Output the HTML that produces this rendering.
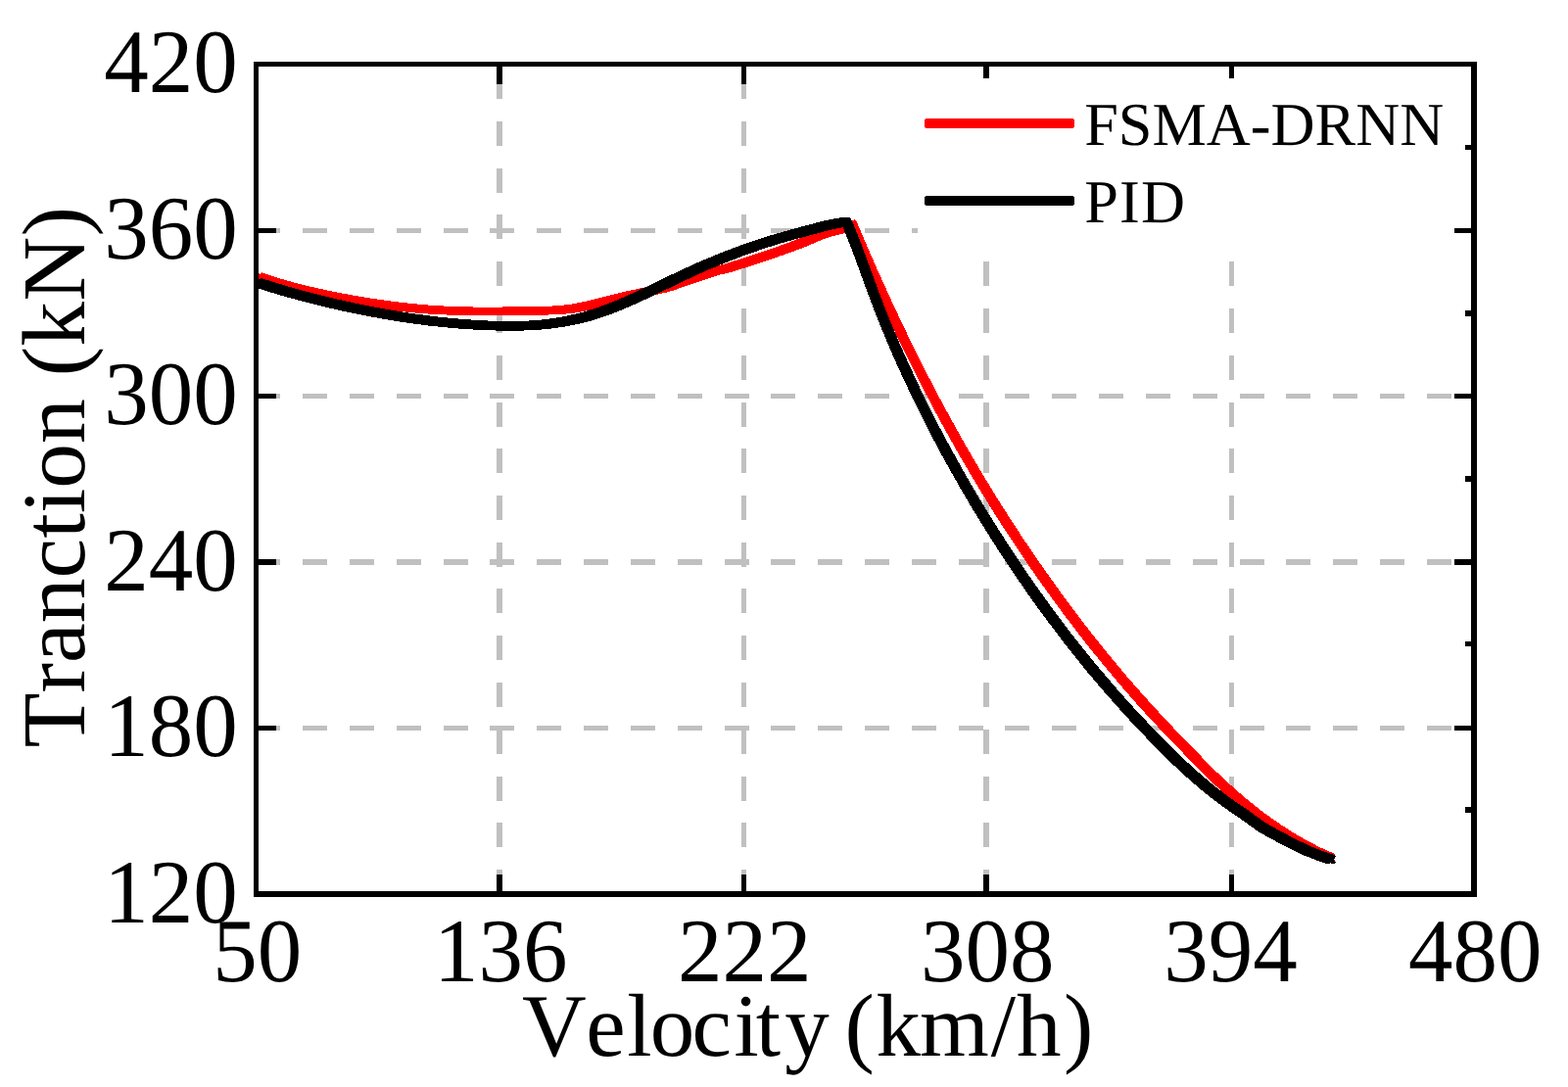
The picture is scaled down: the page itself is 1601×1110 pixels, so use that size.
<!DOCTYPE html>
<html lang="en">
<head>
<meta charset="utf-8">
<title>Traction vs Velocity</title>
<style>
html, body { margin: 0; padding: 0; background: #ffffff; }
body { width: 1601px; height: 1110px; overflow: hidden; }
svg { display: block; position: absolute; left: 0; top: 0; }
text { font-family: "Liberation Serif", serif; fill: #000; font-kerning: none; font-variant-ligatures: none; text-rendering: geometricPrecision; }
.t { font-size: 91px; }
.lg { font-size: 62.3px; }
</style>
</head>
<body>
<svg width="1601" height="1110" viewBox="0 0 1601 1110">
<rect x="0" y="0" width="1601" height="1110" fill="#ffffff"/>

<g shape-rendering="crispEdges">
<rect x="261" y="233" width="25" height="5" fill="#c0c0c0"/>
<rect x="309" y="233" width="25" height="5" fill="#c0c0c0"/>
<rect x="357" y="233" width="25" height="5" fill="#c0c0c0"/>
<rect x="405" y="233" width="25" height="5" fill="#c0c0c0"/>
<rect x="453" y="233" width="25" height="5" fill="#c0c0c0"/>
<rect x="500" y="233" width="25" height="5" fill="#c0c0c0"/>
<rect x="548" y="233" width="25" height="5" fill="#c0c0c0"/>
<rect x="596" y="233" width="25" height="5" fill="#c0c0c0"/>
<rect x="644" y="233" width="25" height="5" fill="#c0c0c0"/>
<rect x="692" y="233" width="25" height="5" fill="#c0c0c0"/>
<rect x="740" y="233" width="25" height="5" fill="#c0c0c0"/>
<rect x="787" y="233" width="25" height="5" fill="#c0c0c0"/>
<rect x="835" y="233" width="25" height="5" fill="#c0c0c0"/>
<rect x="883" y="233" width="25" height="5" fill="#c0c0c0"/>
<rect x="931" y="233" width="25" height="5" fill="#c0c0c0"/>
<rect x="979" y="233" width="25" height="5" fill="#c0c0c0"/>
<rect x="1026" y="233" width="25" height="5" fill="#c0c0c0"/>
<rect x="1074" y="233" width="25" height="5" fill="#c0c0c0"/>
<rect x="1122" y="233" width="25" height="5" fill="#c0c0c0"/>
<rect x="1170" y="233" width="25" height="5" fill="#c0c0c0"/>
<rect x="1218" y="233" width="25" height="5" fill="#c0c0c0"/>
<rect x="1266" y="233" width="25" height="5" fill="#c0c0c0"/>
<rect x="1313" y="233" width="25" height="5" fill="#c0c0c0"/>
<rect x="1361" y="233" width="25" height="5" fill="#c0c0c0"/>
<rect x="1409" y="233" width="25" height="5" fill="#c0c0c0"/>
<rect x="1457" y="233" width="25" height="5" fill="#c0c0c0"/>
<rect x="261" y="402" width="25" height="5" fill="#c0c0c0"/>
<rect x="309" y="402" width="25" height="5" fill="#c0c0c0"/>
<rect x="357" y="402" width="25" height="5" fill="#c0c0c0"/>
<rect x="405" y="402" width="25" height="5" fill="#c0c0c0"/>
<rect x="453" y="402" width="25" height="5" fill="#c0c0c0"/>
<rect x="500" y="402" width="25" height="5" fill="#c0c0c0"/>
<rect x="548" y="402" width="25" height="5" fill="#c0c0c0"/>
<rect x="596" y="402" width="25" height="5" fill="#c0c0c0"/>
<rect x="644" y="402" width="25" height="5" fill="#c0c0c0"/>
<rect x="692" y="402" width="25" height="5" fill="#c0c0c0"/>
<rect x="740" y="402" width="25" height="5" fill="#c0c0c0"/>
<rect x="787" y="402" width="25" height="5" fill="#c0c0c0"/>
<rect x="835" y="402" width="25" height="5" fill="#c0c0c0"/>
<rect x="883" y="402" width="25" height="5" fill="#c0c0c0"/>
<rect x="931" y="402" width="25" height="5" fill="#c0c0c0"/>
<rect x="979" y="402" width="25" height="5" fill="#c0c0c0"/>
<rect x="1026" y="402" width="25" height="5" fill="#c0c0c0"/>
<rect x="1074" y="402" width="25" height="5" fill="#c0c0c0"/>
<rect x="1122" y="402" width="25" height="5" fill="#c0c0c0"/>
<rect x="1170" y="402" width="25" height="5" fill="#c0c0c0"/>
<rect x="1218" y="402" width="25" height="5" fill="#c0c0c0"/>
<rect x="1266" y="402" width="25" height="5" fill="#c0c0c0"/>
<rect x="1313" y="402" width="25" height="5" fill="#c0c0c0"/>
<rect x="1361" y="402" width="25" height="5" fill="#c0c0c0"/>
<rect x="1409" y="402" width="25" height="5" fill="#c0c0c0"/>
<rect x="1457" y="402" width="25" height="5" fill="#c0c0c0"/>
<rect x="261" y="571" width="25" height="6" fill="#c0c0c0"/>
<rect x="309" y="571" width="25" height="6" fill="#c0c0c0"/>
<rect x="357" y="571" width="25" height="6" fill="#c0c0c0"/>
<rect x="405" y="571" width="25" height="6" fill="#c0c0c0"/>
<rect x="453" y="571" width="25" height="6" fill="#c0c0c0"/>
<rect x="500" y="571" width="25" height="6" fill="#c0c0c0"/>
<rect x="548" y="571" width="25" height="6" fill="#c0c0c0"/>
<rect x="596" y="571" width="25" height="6" fill="#c0c0c0"/>
<rect x="644" y="571" width="25" height="6" fill="#c0c0c0"/>
<rect x="692" y="571" width="25" height="6" fill="#c0c0c0"/>
<rect x="740" y="571" width="25" height="6" fill="#c0c0c0"/>
<rect x="787" y="571" width="25" height="6" fill="#c0c0c0"/>
<rect x="835" y="571" width="25" height="6" fill="#c0c0c0"/>
<rect x="883" y="571" width="25" height="6" fill="#c0c0c0"/>
<rect x="931" y="571" width="25" height="6" fill="#c0c0c0"/>
<rect x="979" y="571" width="25" height="6" fill="#c0c0c0"/>
<rect x="1026" y="571" width="25" height="6" fill="#c0c0c0"/>
<rect x="1074" y="571" width="25" height="6" fill="#c0c0c0"/>
<rect x="1122" y="571" width="25" height="6" fill="#c0c0c0"/>
<rect x="1170" y="571" width="25" height="6" fill="#c0c0c0"/>
<rect x="1218" y="571" width="25" height="6" fill="#c0c0c0"/>
<rect x="1266" y="571" width="25" height="6" fill="#c0c0c0"/>
<rect x="1313" y="571" width="25" height="6" fill="#c0c0c0"/>
<rect x="1361" y="571" width="25" height="6" fill="#c0c0c0"/>
<rect x="1409" y="571" width="25" height="6" fill="#c0c0c0"/>
<rect x="1457" y="571" width="25" height="6" fill="#c0c0c0"/>
<rect x="261" y="741" width="25" height="5" fill="#c0c0c0"/>
<rect x="309" y="741" width="25" height="5" fill="#c0c0c0"/>
<rect x="357" y="741" width="25" height="5" fill="#c0c0c0"/>
<rect x="405" y="741" width="25" height="5" fill="#c0c0c0"/>
<rect x="453" y="741" width="25" height="5" fill="#c0c0c0"/>
<rect x="500" y="741" width="25" height="5" fill="#c0c0c0"/>
<rect x="548" y="741" width="25" height="5" fill="#c0c0c0"/>
<rect x="596" y="741" width="25" height="5" fill="#c0c0c0"/>
<rect x="644" y="741" width="25" height="5" fill="#c0c0c0"/>
<rect x="692" y="741" width="25" height="5" fill="#c0c0c0"/>
<rect x="740" y="741" width="25" height="5" fill="#c0c0c0"/>
<rect x="787" y="741" width="25" height="5" fill="#c0c0c0"/>
<rect x="835" y="741" width="25" height="5" fill="#c0c0c0"/>
<rect x="883" y="741" width="25" height="5" fill="#c0c0c0"/>
<rect x="931" y="741" width="25" height="5" fill="#c0c0c0"/>
<rect x="979" y="741" width="25" height="5" fill="#c0c0c0"/>
<rect x="1026" y="741" width="25" height="5" fill="#c0c0c0"/>
<rect x="1074" y="741" width="25" height="5" fill="#c0c0c0"/>
<rect x="1122" y="741" width="25" height="5" fill="#c0c0c0"/>
<rect x="1170" y="741" width="25" height="5" fill="#c0c0c0"/>
<rect x="1218" y="741" width="25" height="5" fill="#c0c0c0"/>
<rect x="1266" y="741" width="25" height="5" fill="#c0c0c0"/>
<rect x="1313" y="741" width="25" height="5" fill="#c0c0c0"/>
<rect x="1361" y="741" width="25" height="5" fill="#c0c0c0"/>
<rect x="1409" y="741" width="25" height="5" fill="#c0c0c0"/>
<rect x="1457" y="741" width="25" height="5" fill="#c0c0c0"/>
<rect x="507" y="888" width="6" height="25" fill="#c0c0c0"/>
<rect x="507" y="840" width="6" height="25" fill="#c0c0c0"/>
<rect x="507" y="793" width="6" height="25" fill="#c0c0c0"/>
<rect x="507" y="745" width="6" height="25" fill="#c0c0c0"/>
<rect x="507" y="697" width="6" height="25" fill="#c0c0c0"/>
<rect x="507" y="649" width="6" height="25" fill="#c0c0c0"/>
<rect x="507" y="601" width="6" height="25" fill="#c0c0c0"/>
<rect x="507" y="554" width="6" height="25" fill="#c0c0c0"/>
<rect x="507" y="506" width="6" height="25" fill="#c0c0c0"/>
<rect x="507" y="458" width="6" height="25" fill="#c0c0c0"/>
<rect x="507" y="411" width="6" height="25" fill="#c0c0c0"/>
<rect x="507" y="363" width="6" height="25" fill="#c0c0c0"/>
<rect x="507" y="315" width="6" height="25" fill="#c0c0c0"/>
<rect x="507" y="267" width="6" height="25" fill="#c0c0c0"/>
<rect x="507" y="219" width="6" height="25" fill="#c0c0c0"/>
<rect x="507" y="172" width="6" height="25" fill="#c0c0c0"/>
<rect x="507" y="124" width="6" height="25" fill="#c0c0c0"/>
<rect x="507" y="76" width="6" height="25" fill="#c0c0c0"/>
<rect x="757" y="888" width="5" height="25" fill="#c0c0c0"/>
<rect x="757" y="840" width="5" height="25" fill="#c0c0c0"/>
<rect x="757" y="793" width="5" height="25" fill="#c0c0c0"/>
<rect x="757" y="745" width="5" height="25" fill="#c0c0c0"/>
<rect x="757" y="697" width="5" height="25" fill="#c0c0c0"/>
<rect x="757" y="649" width="5" height="25" fill="#c0c0c0"/>
<rect x="757" y="601" width="5" height="25" fill="#c0c0c0"/>
<rect x="757" y="554" width="5" height="25" fill="#c0c0c0"/>
<rect x="757" y="506" width="5" height="25" fill="#c0c0c0"/>
<rect x="757" y="458" width="5" height="25" fill="#c0c0c0"/>
<rect x="757" y="411" width="5" height="25" fill="#c0c0c0"/>
<rect x="757" y="363" width="5" height="25" fill="#c0c0c0"/>
<rect x="757" y="315" width="5" height="25" fill="#c0c0c0"/>
<rect x="757" y="267" width="5" height="25" fill="#c0c0c0"/>
<rect x="757" y="219" width="5" height="25" fill="#c0c0c0"/>
<rect x="757" y="172" width="5" height="25" fill="#c0c0c0"/>
<rect x="757" y="124" width="5" height="25" fill="#c0c0c0"/>
<rect x="757" y="76" width="5" height="25" fill="#c0c0c0"/>
<rect x="1004" y="888" width="6" height="25" fill="#c0c0c0"/>
<rect x="1004" y="840" width="6" height="25" fill="#c0c0c0"/>
<rect x="1004" y="793" width="6" height="25" fill="#c0c0c0"/>
<rect x="1004" y="745" width="6" height="25" fill="#c0c0c0"/>
<rect x="1004" y="697" width="6" height="25" fill="#c0c0c0"/>
<rect x="1004" y="649" width="6" height="25" fill="#c0c0c0"/>
<rect x="1004" y="601" width="6" height="25" fill="#c0c0c0"/>
<rect x="1004" y="554" width="6" height="25" fill="#c0c0c0"/>
<rect x="1004" y="506" width="6" height="25" fill="#c0c0c0"/>
<rect x="1004" y="458" width="6" height="25" fill="#c0c0c0"/>
<rect x="1004" y="411" width="6" height="25" fill="#c0c0c0"/>
<rect x="1004" y="363" width="6" height="25" fill="#c0c0c0"/>
<rect x="1004" y="315" width="6" height="25" fill="#c0c0c0"/>
<rect x="1004" y="267" width="6" height="25" fill="#c0c0c0"/>
<rect x="1004" y="219" width="6" height="25" fill="#c0c0c0"/>
<rect x="1004" y="172" width="6" height="25" fill="#c0c0c0"/>
<rect x="1004" y="124" width="6" height="25" fill="#c0c0c0"/>
<rect x="1004" y="76" width="6" height="25" fill="#c0c0c0"/>
<rect x="1255" y="888" width="5" height="25" fill="#c0c0c0"/>
<rect x="1255" y="840" width="5" height="25" fill="#c0c0c0"/>
<rect x="1255" y="793" width="5" height="25" fill="#c0c0c0"/>
<rect x="1255" y="745" width="5" height="25" fill="#c0c0c0"/>
<rect x="1255" y="697" width="5" height="25" fill="#c0c0c0"/>
<rect x="1255" y="649" width="5" height="25" fill="#c0c0c0"/>
<rect x="1255" y="601" width="5" height="25" fill="#c0c0c0"/>
<rect x="1255" y="554" width="5" height="25" fill="#c0c0c0"/>
<rect x="1255" y="506" width="5" height="25" fill="#c0c0c0"/>
<rect x="1255" y="458" width="5" height="25" fill="#c0c0c0"/>
<rect x="1255" y="411" width="5" height="25" fill="#c0c0c0"/>
<rect x="1255" y="363" width="5" height="25" fill="#c0c0c0"/>
<rect x="1255" y="315" width="5" height="25" fill="#c0c0c0"/>
<rect x="1255" y="267" width="5" height="25" fill="#c0c0c0"/>
<rect x="1255" y="219" width="5" height="25" fill="#c0c0c0"/>
<rect x="1255" y="172" width="5" height="25" fill="#c0c0c0"/>
<rect x="1255" y="124" width="5" height="25" fill="#c0c0c0"/>
<rect x="1255" y="76" width="5" height="25" fill="#c0c0c0"/>
</g>
<g shape-rendering="crispEdges">
<g fill="none" stroke="#ff0000" stroke-linejoin="round" stroke-linecap="round">
<polyline stroke-width="5.6" points="264.5,282.7 270,284.6 276,286.5 282,288.4 288,290.2 294,291.9 300,293.5 306,295 312,296.5 318,297.9 324,299.2 330,300.5 336,301.8 342,303 348,304.1 354,305.2 360,306.3 366,307.3 372,308.3 378,309.2 384,310.1 390,311 396,311.8 402,312.6 408,313.3 414,313.9 420,314.5 426,315.1 432,315.6 438,316.1 444,316.5 450,316.8 456,317.1 462,317.3 468,317.5 474,317.7 480,317.8 486,317.8 492,317.9 498,317.9 504,317.9 510,317.8 516,317.8 522,317.7 528,317.6 534,317.6 540,317.5 546,317.4 552,317.4 558,317.2 564,317 570,316.6 576,316.1 582,315.5 588,314.6 594,313.5 600,312.2 606,310.9 612,309.4 618,307.8 624,306.3 630,304.8 636,303.3 642,301.9 648,300.6 654,299.3 660,298 666,296.8 672,295.5 678,294.1 684,292.5 690,290.3 696,288 702,286.1 708,284.2 714,282.3 720,280.3 726,278.2 732,276.3 738,275 744,273.5 750,271.6 756,269.7 762,267.7 768,265.7 774,263.7 780,261.8 786,259.8 792,257.7 798,255.7 804,253.5 810,251.3 816,249 822,246.6 828,244 834,241.5 840,239.2 846,237.3 852,235.7 858,234.1 864,231.9 870,228.7 871.8,232.7 874.3,238.7 876.9,244.7 879.4,250.7 882,256.7 884.6,262.7 887.3,268.7 889.9,274.7 892.6,280.7 895.3,286.7 898,292.7 900.7,298.7 903.4,304.7 906.2,310.7 909,316.7 911.8,322.7 914.6,328.7 917.5,334.7 920.3,340.7 923.2,346.7 926.2,352.7 929.1,358.7 932.1,364.7 935.1,370.7 938.1,376.7 941.1,382.7 944.2,388.7 947.3,394.7 950.5,400.7 953.6,406.7 956.8,412.7 960,418.7 963.3,424.7 966.5,430.7 969.8,436.7 973.2,442.7 976.5,448.7 979.9,454.7 983.3,460.7 986.8,466.7 990.3,472.7 993.8,478.7 997.4,484.7 1001,490.7 1004.6,496.7 1008.3,502.7 1011.9,508.7 1015.7,514.7 1019.4,520.7 1023.2,526.7 1027.1,532.7 1031,538.7 1034.9,544.7 1038.8,550.7 1042.8,556.7 1046.9,562.7 1050.9,568.7 1055,574.7 1059.2,580.7 1063.4,586.7 1067.6,592.7 1071.9,598.7 1076.2,604.7 1080.6,610.7 1085,616.7 1089.4,622.7 1093.9,628.7 1098.5,634.7 1103.1,640.7 1107.7,646.7 1112.4,652.7 1117.2,658.7 1122,664.7 1126.9,670.7 1131.8,676.7 1136.8,682.7 1141.8,688.7 1146.9,694.7 1152.1,700.7 1157.3,706.7 1162.6,712.7 1168,718.7 1173.4,724.7 1179,730.7 1184.5,736.7 1190.2,742.7 1195.9,748.7 1201.7,754.7 1207.6,760.8 1213.6,766.9 1219.6,773.2 1225.7,779.5 1231.9,785.8 1238.2,792 1244.6,798 1251.1,804 1257.7,810 1264.6,816 1271.7,822 1279.2,828 1287,834 1295.3,840 1304,846 1313.3,852 1323.2,858 1333.8,864 1345.1,869.7 1357.1,875.1 1358.7,875.8"/>
<polyline transform="translate(-2.8 -2.8)" stroke-width="3" points="264.5,282.7 270,284.6 276,286.5 282,288.4 288,290.2 294,291.9 300,293.5 306,295 312,296.5 318,297.9 324,299.2 330,300.5 336,301.8 342,303 348,304.1 354,305.2 360,306.3 366,307.3 372,308.3 378,309.2 384,310.1 390,311 396,311.8 402,312.6 408,313.3 414,313.9 420,314.5 426,315.1 432,315.6 438,316.1 444,316.5 450,316.8 456,317.1 462,317.3 468,317.5 474,317.7 480,317.8 486,317.8 492,317.9 498,317.9 504,317.9 510,317.8 516,317.8 522,317.7 528,317.6 534,317.6 540,317.5 546,317.4 552,317.4 558,317.2 564,317 570,316.6 576,316.1 582,315.5 588,314.6 594,313.5 600,312.2 606,310.9 612,309.4 618,307.8 624,306.3 630,304.8 636,303.3 642,301.9 648,300.6 654,299.3 660,298 666,296.8 672,295.5 678,294.1 684,292.5 690,290.3 696,288 702,286.1 708,284.2 714,282.3 720,280.3 726,278.2 732,276.3 738,275 744,273.5 750,271.6 756,269.7 762,267.7 768,265.7 774,263.7 780,261.8 786,259.8 792,257.7 798,255.7 804,253.5 810,251.3 816,249 822,246.6 828,244 834,241.5 840,239.2 846,237.3 852,235.7 858,234.1 864,231.9 870,228.7 871.8,232.7 874.3,238.7 876.9,244.7 879.4,250.7 882,256.7 884.6,262.7 887.3,268.7 889.9,274.7 892.6,280.7 895.3,286.7 898,292.7 900.7,298.7 903.4,304.7 906.2,310.7 909,316.7 911.8,322.7 914.6,328.7 917.5,334.7 920.3,340.7 923.2,346.7 926.2,352.7 929.1,358.7 932.1,364.7 935.1,370.7 938.1,376.7 941.1,382.7 944.2,388.7 947.3,394.7 950.5,400.7 953.6,406.7 956.8,412.7 960,418.7 963.3,424.7 966.5,430.7 969.8,436.7 973.2,442.7 976.5,448.7 979.9,454.7 983.3,460.7 986.8,466.7 990.3,472.7 993.8,478.7 997.4,484.7 1001,490.7 1004.6,496.7 1008.3,502.7 1011.9,508.7 1015.7,514.7 1019.4,520.7 1023.2,526.7 1027.1,532.7 1031,538.7 1034.9,544.7 1038.8,550.7 1042.8,556.7 1046.9,562.7 1050.9,568.7 1055,574.7 1059.2,580.7 1063.4,586.7 1067.6,592.7 1071.9,598.7 1076.2,604.7 1080.6,610.7 1085,616.7 1089.4,622.7 1093.9,628.7 1098.5,634.7 1103.1,640.7 1107.7,646.7 1112.4,652.7 1117.2,658.7 1122,664.7 1126.9,670.7 1131.8,676.7 1136.8,682.7 1141.8,688.7 1146.9,694.7 1152.1,700.7 1157.3,706.7 1162.6,712.7 1168,718.7 1173.4,724.7 1179,730.7 1184.5,736.7 1190.2,742.7 1195.9,748.7 1201.7,754.7 1207.6,760.8 1213.6,766.9 1219.6,773.2 1225.7,779.5 1231.9,785.8 1238.2,792 1244.6,798 1251.1,804 1257.7,810 1264.6,816 1271.7,822 1279.2,828 1287,834 1295.3,840 1304,846 1313.3,852 1323.2,858 1333.8,864 1345.1,869.7 1357.1,875.1 1358.7,875.8"/>
<polyline transform="translate(2.8 -2.8)" stroke-width="3" points="264.5,282.7 270,284.6 276,286.5 282,288.4 288,290.2 294,291.9 300,293.5 306,295 312,296.5 318,297.9 324,299.2 330,300.5 336,301.8 342,303 348,304.1 354,305.2 360,306.3 366,307.3 372,308.3 378,309.2 384,310.1 390,311 396,311.8 402,312.6 408,313.3 414,313.9 420,314.5 426,315.1 432,315.6 438,316.1 444,316.5 450,316.8 456,317.1 462,317.3 468,317.5 474,317.7 480,317.8 486,317.8 492,317.9 498,317.9 504,317.9 510,317.8 516,317.8 522,317.7 528,317.6 534,317.6 540,317.5 546,317.4 552,317.4 558,317.2 564,317 570,316.6 576,316.1 582,315.5 588,314.6 594,313.5 600,312.2 606,310.9 612,309.4 618,307.8 624,306.3 630,304.8 636,303.3 642,301.9 648,300.6 654,299.3 660,298 666,296.8 672,295.5 678,294.1 684,292.5 690,290.3 696,288 702,286.1 708,284.2 714,282.3 720,280.3 726,278.2 732,276.3 738,275 744,273.5 750,271.6 756,269.7 762,267.7 768,265.7 774,263.7 780,261.8 786,259.8 792,257.7 798,255.7 804,253.5 810,251.3 816,249 822,246.6 828,244 834,241.5 840,239.2 846,237.3 852,235.7 858,234.1 864,231.9 870,228.7 871.8,232.7 874.3,238.7 876.9,244.7 879.4,250.7 882,256.7 884.6,262.7 887.3,268.7 889.9,274.7 892.6,280.7 895.3,286.7 898,292.7 900.7,298.7 903.4,304.7 906.2,310.7 909,316.7 911.8,322.7 914.6,328.7 917.5,334.7 920.3,340.7 923.2,346.7 926.2,352.7 929.1,358.7 932.1,364.7 935.1,370.7 938.1,376.7 941.1,382.7 944.2,388.7 947.3,394.7 950.5,400.7 953.6,406.7 956.8,412.7 960,418.7 963.3,424.7 966.5,430.7 969.8,436.7 973.2,442.7 976.5,448.7 979.9,454.7 983.3,460.7 986.8,466.7 990.3,472.7 993.8,478.7 997.4,484.7 1001,490.7 1004.6,496.7 1008.3,502.7 1011.9,508.7 1015.7,514.7 1019.4,520.7 1023.2,526.7 1027.1,532.7 1031,538.7 1034.9,544.7 1038.8,550.7 1042.8,556.7 1046.9,562.7 1050.9,568.7 1055,574.7 1059.2,580.7 1063.4,586.7 1067.6,592.7 1071.9,598.7 1076.2,604.7 1080.6,610.7 1085,616.7 1089.4,622.7 1093.9,628.7 1098.5,634.7 1103.1,640.7 1107.7,646.7 1112.4,652.7 1117.2,658.7 1122,664.7 1126.9,670.7 1131.8,676.7 1136.8,682.7 1141.8,688.7 1146.9,694.7 1152.1,700.7 1157.3,706.7 1162.6,712.7 1168,718.7 1173.4,724.7 1179,730.7 1184.5,736.7 1190.2,742.7 1195.9,748.7 1201.7,754.7 1207.6,760.8 1213.6,766.9 1219.6,773.2 1225.7,779.5 1231.9,785.8 1238.2,792 1244.6,798 1251.1,804 1257.7,810 1264.6,816 1271.7,822 1279.2,828 1287,834 1295.3,840 1304,846 1313.3,852 1323.2,858 1333.8,864 1345.1,869.7 1357.1,875.1 1358.7,875.8"/>
<polyline transform="translate(-2.8 2.8)" stroke-width="3" points="264.5,282.7 270,284.6 276,286.5 282,288.4 288,290.2 294,291.9 300,293.5 306,295 312,296.5 318,297.9 324,299.2 330,300.5 336,301.8 342,303 348,304.1 354,305.2 360,306.3 366,307.3 372,308.3 378,309.2 384,310.1 390,311 396,311.8 402,312.6 408,313.3 414,313.9 420,314.5 426,315.1 432,315.6 438,316.1 444,316.5 450,316.8 456,317.1 462,317.3 468,317.5 474,317.7 480,317.8 486,317.8 492,317.9 498,317.9 504,317.9 510,317.8 516,317.8 522,317.7 528,317.6 534,317.6 540,317.5 546,317.4 552,317.4 558,317.2 564,317 570,316.6 576,316.1 582,315.5 588,314.6 594,313.5 600,312.2 606,310.9 612,309.4 618,307.8 624,306.3 630,304.8 636,303.3 642,301.9 648,300.6 654,299.3 660,298 666,296.8 672,295.5 678,294.1 684,292.5 690,290.3 696,288 702,286.1 708,284.2 714,282.3 720,280.3 726,278.2 732,276.3 738,275 744,273.5 750,271.6 756,269.7 762,267.7 768,265.7 774,263.7 780,261.8 786,259.8 792,257.7 798,255.7 804,253.5 810,251.3 816,249 822,246.6 828,244 834,241.5 840,239.2 846,237.3 852,235.7 858,234.1 864,231.9 870,228.7 871.8,232.7 874.3,238.7 876.9,244.7 879.4,250.7 882,256.7 884.6,262.7 887.3,268.7 889.9,274.7 892.6,280.7 895.3,286.7 898,292.7 900.7,298.7 903.4,304.7 906.2,310.7 909,316.7 911.8,322.7 914.6,328.7 917.5,334.7 920.3,340.7 923.2,346.7 926.2,352.7 929.1,358.7 932.1,364.7 935.1,370.7 938.1,376.7 941.1,382.7 944.2,388.7 947.3,394.7 950.5,400.7 953.6,406.7 956.8,412.7 960,418.7 963.3,424.7 966.5,430.7 969.8,436.7 973.2,442.7 976.5,448.7 979.9,454.7 983.3,460.7 986.8,466.7 990.3,472.7 993.8,478.7 997.4,484.7 1001,490.7 1004.6,496.7 1008.3,502.7 1011.9,508.7 1015.7,514.7 1019.4,520.7 1023.2,526.7 1027.1,532.7 1031,538.7 1034.9,544.7 1038.8,550.7 1042.8,556.7 1046.9,562.7 1050.9,568.7 1055,574.7 1059.2,580.7 1063.4,586.7 1067.6,592.7 1071.9,598.7 1076.2,604.7 1080.6,610.7 1085,616.7 1089.4,622.7 1093.9,628.7 1098.5,634.7 1103.1,640.7 1107.7,646.7 1112.4,652.7 1117.2,658.7 1122,664.7 1126.9,670.7 1131.8,676.7 1136.8,682.7 1141.8,688.7 1146.9,694.7 1152.1,700.7 1157.3,706.7 1162.6,712.7 1168,718.7 1173.4,724.7 1179,730.7 1184.5,736.7 1190.2,742.7 1195.9,748.7 1201.7,754.7 1207.6,760.8 1213.6,766.9 1219.6,773.2 1225.7,779.5 1231.9,785.8 1238.2,792 1244.6,798 1251.1,804 1257.7,810 1264.6,816 1271.7,822 1279.2,828 1287,834 1295.3,840 1304,846 1313.3,852 1323.2,858 1333.8,864 1345.1,869.7 1357.1,875.1 1358.7,875.8"/>
<polyline transform="translate(2.8 2.8)" stroke-width="3" points="264.5,282.7 270,284.6 276,286.5 282,288.4 288,290.2 294,291.9 300,293.5 306,295 312,296.5 318,297.9 324,299.2 330,300.5 336,301.8 342,303 348,304.1 354,305.2 360,306.3 366,307.3 372,308.3 378,309.2 384,310.1 390,311 396,311.8 402,312.6 408,313.3 414,313.9 420,314.5 426,315.1 432,315.6 438,316.1 444,316.5 450,316.8 456,317.1 462,317.3 468,317.5 474,317.7 480,317.8 486,317.8 492,317.9 498,317.9 504,317.9 510,317.8 516,317.8 522,317.7 528,317.6 534,317.6 540,317.5 546,317.4 552,317.4 558,317.2 564,317 570,316.6 576,316.1 582,315.5 588,314.6 594,313.5 600,312.2 606,310.9 612,309.4 618,307.8 624,306.3 630,304.8 636,303.3 642,301.9 648,300.6 654,299.3 660,298 666,296.8 672,295.5 678,294.1 684,292.5 690,290.3 696,288 702,286.1 708,284.2 714,282.3 720,280.3 726,278.2 732,276.3 738,275 744,273.5 750,271.6 756,269.7 762,267.7 768,265.7 774,263.7 780,261.8 786,259.8 792,257.7 798,255.7 804,253.5 810,251.3 816,249 822,246.6 828,244 834,241.5 840,239.2 846,237.3 852,235.7 858,234.1 864,231.9 870,228.7 871.8,232.7 874.3,238.7 876.9,244.7 879.4,250.7 882,256.7 884.6,262.7 887.3,268.7 889.9,274.7 892.6,280.7 895.3,286.7 898,292.7 900.7,298.7 903.4,304.7 906.2,310.7 909,316.7 911.8,322.7 914.6,328.7 917.5,334.7 920.3,340.7 923.2,346.7 926.2,352.7 929.1,358.7 932.1,364.7 935.1,370.7 938.1,376.7 941.1,382.7 944.2,388.7 947.3,394.7 950.5,400.7 953.6,406.7 956.8,412.7 960,418.7 963.3,424.7 966.5,430.7 969.8,436.7 973.2,442.7 976.5,448.7 979.9,454.7 983.3,460.7 986.8,466.7 990.3,472.7 993.8,478.7 997.4,484.7 1001,490.7 1004.6,496.7 1008.3,502.7 1011.9,508.7 1015.7,514.7 1019.4,520.7 1023.2,526.7 1027.1,532.7 1031,538.7 1034.9,544.7 1038.8,550.7 1042.8,556.7 1046.9,562.7 1050.9,568.7 1055,574.7 1059.2,580.7 1063.4,586.7 1067.6,592.7 1071.9,598.7 1076.2,604.7 1080.6,610.7 1085,616.7 1089.4,622.7 1093.9,628.7 1098.5,634.7 1103.1,640.7 1107.7,646.7 1112.4,652.7 1117.2,658.7 1122,664.7 1126.9,670.7 1131.8,676.7 1136.8,682.7 1141.8,688.7 1146.9,694.7 1152.1,700.7 1157.3,706.7 1162.6,712.7 1168,718.7 1173.4,724.7 1179,730.7 1184.5,736.7 1190.2,742.7 1195.9,748.7 1201.7,754.7 1207.6,760.8 1213.6,766.9 1219.6,773.2 1225.7,779.5 1231.9,785.8 1238.2,792 1244.6,798 1251.1,804 1257.7,810 1264.6,816 1271.7,822 1279.2,828 1287,834 1295.3,840 1304,846 1313.3,852 1323.2,858 1333.8,864 1345.1,869.7 1357.1,875.1 1358.7,875.8"/>
</g>
<g fill="none" stroke="#000000" stroke-linejoin="round" stroke-linecap="round">
<polyline stroke-width="5.5" points="264.5,289.1 270,290.8 276,292.7 282,294.5 288,296.3 294,298.1 300,299.8 306,301.4 312,303 318,304.6 324,306.1 330,307.6 336,309 342,310.4 348,311.8 354,313.1 360,314.4 366,315.6 372,316.8 378,318 384,319.1 390,320.2 396,321.2 402,322.3 408,323.2 414,324.2 420,325.1 426,325.9 432,326.7 438,327.5 444,328.2 450,328.8 456,329.4 462,330 468,330.5 474,331 480,331.4 486,331.8 492,332.1 498,332.4 504,332.6 510,332.8 516,332.9 522,332.9 528,332.9 534,332.7 540,332.4 546,332.1 552,331.6 558,331 564,330.2 570,329.4 576,328.4 582,327.2 588,325.9 594,324.5 600,322.9 606,321.1 612,319.2 618,317.1 624,314.8 630,312.4 636,309.9 642,307.3 648,304.6 654,301.9 660,299.1 666,296.2 672,293.3 678,290.4 684,287.5 690,284.6 696,281.8 702,279 708,276.2 714,273.5 720,270.9 726,268.4 732,265.9 738,263.5 744,261.1 750,258.8 756,256.5 762,254.4 768,252.3 774,250.2 780,248.2 786,246.3 792,244.5 798,242.7 804,241 810,239.3 816,237.7 822,236.1 828,234.5 834,232.9 840,231.3 846,229.8 852,228.5 858,227.5 864,226.8 864.3,226.8 866.1,230.8 868.6,236.8 871,242.8 873.3,248.8 875.6,254.8 877.8,260.8 880,266.8 882.2,272.8 884.4,278.8 886.6,284.8 888.7,290.8 891,296.8 893.2,302.8 895.5,308.8 897.8,314.8 900.2,320.8 902.6,326.8 905,332.8 907.5,338.8 910,344.8 912.5,350.8 915.1,356.8 917.8,362.8 920.4,368.8 923.1,374.8 925.9,380.8 928.7,386.8 931.5,392.8 934.3,398.8 937.2,404.8 940.2,410.8 943.1,416.8 946.1,422.8 949.2,428.8 952.2,434.8 955.3,440.8 958.5,446.8 961.7,452.8 964.9,458.8 968.2,464.8 971.5,470.8 974.8,476.8 978.2,482.8 981.6,488.8 985,494.8 988.5,500.8 992.1,506.8 995.6,512.8 999.2,518.8 1002.9,524.8 1006.6,530.8 1010.3,536.8 1014.1,542.8 1017.9,548.8 1021.7,554.8 1025.6,560.8 1029.6,566.8 1033.5,572.8 1037.5,578.8 1041.6,584.8 1045.7,590.8 1049.8,596.8 1054,602.8 1058.3,608.8 1062.6,614.8 1066.9,620.8 1071.3,626.8 1075.8,632.8 1080.3,638.8 1084.8,644.8 1089.4,650.8 1094.1,656.8 1098.9,662.8 1103.7,668.8 1108.5,674.8 1113.4,680.8 1118.4,686.8 1123.5,692.8 1128.6,698.8 1133.8,704.8 1139.1,710.8 1144.4,716.8 1149.8,722.8 1155.3,728.8 1160.9,734.8 1166.5,740.8 1172.2,746.8 1178,752.8 1183.9,758.8 1189.9,764.8 1195.9,770.8 1202.1,776.8 1208.4,782.8 1215,788.8 1221.7,794.8 1228.8,800.8 1236.1,806.8 1243.8,812.8 1251.8,818.8 1260.3,824.8 1269.3,830.9 1278.7,837.8 1288.7,844.8 1299.3,850.8 1310.4,856.8 1322.2,862.8 1334.7,868.8 1348,873.9 1358.8,877.6"/>
<polyline transform="translate(-2.75 -2.75)" stroke-width="4" points="264.5,289.1 270,290.8 276,292.7 282,294.5 288,296.3 294,298.1 300,299.8 306,301.4 312,303 318,304.6 324,306.1 330,307.6 336,309 342,310.4 348,311.8 354,313.1 360,314.4 366,315.6 372,316.8 378,318 384,319.1 390,320.2 396,321.2 402,322.3 408,323.2 414,324.2 420,325.1 426,325.9 432,326.7 438,327.5 444,328.2 450,328.8 456,329.4 462,330 468,330.5 474,331 480,331.4 486,331.8 492,332.1 498,332.4 504,332.6 510,332.8 516,332.9 522,332.9 528,332.9 534,332.7 540,332.4 546,332.1 552,331.6 558,331 564,330.2 570,329.4 576,328.4 582,327.2 588,325.9 594,324.5 600,322.9 606,321.1 612,319.2 618,317.1 624,314.8 630,312.4 636,309.9 642,307.3 648,304.6 654,301.9 660,299.1 666,296.2 672,293.3 678,290.4 684,287.5 690,284.6 696,281.8 702,279 708,276.2 714,273.5 720,270.9 726,268.4 732,265.9 738,263.5 744,261.1 750,258.8 756,256.5 762,254.4 768,252.3 774,250.2 780,248.2 786,246.3 792,244.5 798,242.7 804,241 810,239.3 816,237.7 822,236.1 828,234.5 834,232.9 840,231.3 846,229.8 852,228.5 858,227.5 864,226.8 864.3,226.8 866.1,230.8 868.6,236.8 871,242.8 873.3,248.8 875.6,254.8 877.8,260.8 880,266.8 882.2,272.8 884.4,278.8 886.6,284.8 888.7,290.8 891,296.8 893.2,302.8 895.5,308.8 897.8,314.8 900.2,320.8 902.6,326.8 905,332.8 907.5,338.8 910,344.8 912.5,350.8 915.1,356.8 917.8,362.8 920.4,368.8 923.1,374.8 925.9,380.8 928.7,386.8 931.5,392.8 934.3,398.8 937.2,404.8 940.2,410.8 943.1,416.8 946.1,422.8 949.2,428.8 952.2,434.8 955.3,440.8 958.5,446.8 961.7,452.8 964.9,458.8 968.2,464.8 971.5,470.8 974.8,476.8 978.2,482.8 981.6,488.8 985,494.8 988.5,500.8 992.1,506.8 995.6,512.8 999.2,518.8 1002.9,524.8 1006.6,530.8 1010.3,536.8 1014.1,542.8 1017.9,548.8 1021.7,554.8 1025.6,560.8 1029.6,566.8 1033.5,572.8 1037.5,578.8 1041.6,584.8 1045.7,590.8 1049.8,596.8 1054,602.8 1058.3,608.8 1062.6,614.8 1066.9,620.8 1071.3,626.8 1075.8,632.8 1080.3,638.8 1084.8,644.8 1089.4,650.8 1094.1,656.8 1098.9,662.8 1103.7,668.8 1108.5,674.8 1113.4,680.8 1118.4,686.8 1123.5,692.8 1128.6,698.8 1133.8,704.8 1139.1,710.8 1144.4,716.8 1149.8,722.8 1155.3,728.8 1160.9,734.8 1166.5,740.8 1172.2,746.8 1178,752.8 1183.9,758.8 1189.9,764.8 1195.9,770.8 1202.1,776.8 1208.4,782.8 1215,788.8 1221.7,794.8 1228.8,800.8 1236.1,806.8 1243.8,812.8 1251.8,818.8 1260.3,824.8 1269.3,830.9 1278.7,837.8 1288.7,844.8 1299.3,850.8 1310.4,856.8 1322.2,862.8 1334.7,868.8 1348,873.9 1358.8,877.6"/>
<polyline transform="translate(2.75 -2.75)" stroke-width="4" points="264.5,289.1 270,290.8 276,292.7 282,294.5 288,296.3 294,298.1 300,299.8 306,301.4 312,303 318,304.6 324,306.1 330,307.6 336,309 342,310.4 348,311.8 354,313.1 360,314.4 366,315.6 372,316.8 378,318 384,319.1 390,320.2 396,321.2 402,322.3 408,323.2 414,324.2 420,325.1 426,325.9 432,326.7 438,327.5 444,328.2 450,328.8 456,329.4 462,330 468,330.5 474,331 480,331.4 486,331.8 492,332.1 498,332.4 504,332.6 510,332.8 516,332.9 522,332.9 528,332.9 534,332.7 540,332.4 546,332.1 552,331.6 558,331 564,330.2 570,329.4 576,328.4 582,327.2 588,325.9 594,324.5 600,322.9 606,321.1 612,319.2 618,317.1 624,314.8 630,312.4 636,309.9 642,307.3 648,304.6 654,301.9 660,299.1 666,296.2 672,293.3 678,290.4 684,287.5 690,284.6 696,281.8 702,279 708,276.2 714,273.5 720,270.9 726,268.4 732,265.9 738,263.5 744,261.1 750,258.8 756,256.5 762,254.4 768,252.3 774,250.2 780,248.2 786,246.3 792,244.5 798,242.7 804,241 810,239.3 816,237.7 822,236.1 828,234.5 834,232.9 840,231.3 846,229.8 852,228.5 858,227.5 864,226.8 864.3,226.8 866.1,230.8 868.6,236.8 871,242.8 873.3,248.8 875.6,254.8 877.8,260.8 880,266.8 882.2,272.8 884.4,278.8 886.6,284.8 888.7,290.8 891,296.8 893.2,302.8 895.5,308.8 897.8,314.8 900.2,320.8 902.6,326.8 905,332.8 907.5,338.8 910,344.8 912.5,350.8 915.1,356.8 917.8,362.8 920.4,368.8 923.1,374.8 925.9,380.8 928.7,386.8 931.5,392.8 934.3,398.8 937.2,404.8 940.2,410.8 943.1,416.8 946.1,422.8 949.2,428.8 952.2,434.8 955.3,440.8 958.5,446.8 961.7,452.8 964.9,458.8 968.2,464.8 971.5,470.8 974.8,476.8 978.2,482.8 981.6,488.8 985,494.8 988.5,500.8 992.1,506.8 995.6,512.8 999.2,518.8 1002.9,524.8 1006.6,530.8 1010.3,536.8 1014.1,542.8 1017.9,548.8 1021.7,554.8 1025.6,560.8 1029.6,566.8 1033.5,572.8 1037.5,578.8 1041.6,584.8 1045.7,590.8 1049.8,596.8 1054,602.8 1058.3,608.8 1062.6,614.8 1066.9,620.8 1071.3,626.8 1075.8,632.8 1080.3,638.8 1084.8,644.8 1089.4,650.8 1094.1,656.8 1098.9,662.8 1103.7,668.8 1108.5,674.8 1113.4,680.8 1118.4,686.8 1123.5,692.8 1128.6,698.8 1133.8,704.8 1139.1,710.8 1144.4,716.8 1149.8,722.8 1155.3,728.8 1160.9,734.8 1166.5,740.8 1172.2,746.8 1178,752.8 1183.9,758.8 1189.9,764.8 1195.9,770.8 1202.1,776.8 1208.4,782.8 1215,788.8 1221.7,794.8 1228.8,800.8 1236.1,806.8 1243.8,812.8 1251.8,818.8 1260.3,824.8 1269.3,830.9 1278.7,837.8 1288.7,844.8 1299.3,850.8 1310.4,856.8 1322.2,862.8 1334.7,868.8 1348,873.9 1358.8,877.6"/>
<polyline transform="translate(-2.75 2.75)" stroke-width="4" points="264.5,289.1 270,290.8 276,292.7 282,294.5 288,296.3 294,298.1 300,299.8 306,301.4 312,303 318,304.6 324,306.1 330,307.6 336,309 342,310.4 348,311.8 354,313.1 360,314.4 366,315.6 372,316.8 378,318 384,319.1 390,320.2 396,321.2 402,322.3 408,323.2 414,324.2 420,325.1 426,325.9 432,326.7 438,327.5 444,328.2 450,328.8 456,329.4 462,330 468,330.5 474,331 480,331.4 486,331.8 492,332.1 498,332.4 504,332.6 510,332.8 516,332.9 522,332.9 528,332.9 534,332.7 540,332.4 546,332.1 552,331.6 558,331 564,330.2 570,329.4 576,328.4 582,327.2 588,325.9 594,324.5 600,322.9 606,321.1 612,319.2 618,317.1 624,314.8 630,312.4 636,309.9 642,307.3 648,304.6 654,301.9 660,299.1 666,296.2 672,293.3 678,290.4 684,287.5 690,284.6 696,281.8 702,279 708,276.2 714,273.5 720,270.9 726,268.4 732,265.9 738,263.5 744,261.1 750,258.8 756,256.5 762,254.4 768,252.3 774,250.2 780,248.2 786,246.3 792,244.5 798,242.7 804,241 810,239.3 816,237.7 822,236.1 828,234.5 834,232.9 840,231.3 846,229.8 852,228.5 858,227.5 864,226.8 864.3,226.8 866.1,230.8 868.6,236.8 871,242.8 873.3,248.8 875.6,254.8 877.8,260.8 880,266.8 882.2,272.8 884.4,278.8 886.6,284.8 888.7,290.8 891,296.8 893.2,302.8 895.5,308.8 897.8,314.8 900.2,320.8 902.6,326.8 905,332.8 907.5,338.8 910,344.8 912.5,350.8 915.1,356.8 917.8,362.8 920.4,368.8 923.1,374.8 925.9,380.8 928.7,386.8 931.5,392.8 934.3,398.8 937.2,404.8 940.2,410.8 943.1,416.8 946.1,422.8 949.2,428.8 952.2,434.8 955.3,440.8 958.5,446.8 961.7,452.8 964.9,458.8 968.2,464.8 971.5,470.8 974.8,476.8 978.2,482.8 981.6,488.8 985,494.8 988.5,500.8 992.1,506.8 995.6,512.8 999.2,518.8 1002.9,524.8 1006.6,530.8 1010.3,536.8 1014.1,542.8 1017.9,548.8 1021.7,554.8 1025.6,560.8 1029.6,566.8 1033.5,572.8 1037.5,578.8 1041.6,584.8 1045.7,590.8 1049.8,596.8 1054,602.8 1058.3,608.8 1062.6,614.8 1066.9,620.8 1071.3,626.8 1075.8,632.8 1080.3,638.8 1084.8,644.8 1089.4,650.8 1094.1,656.8 1098.9,662.8 1103.7,668.8 1108.5,674.8 1113.4,680.8 1118.4,686.8 1123.5,692.8 1128.6,698.8 1133.8,704.8 1139.1,710.8 1144.4,716.8 1149.8,722.8 1155.3,728.8 1160.9,734.8 1166.5,740.8 1172.2,746.8 1178,752.8 1183.9,758.8 1189.9,764.8 1195.9,770.8 1202.1,776.8 1208.4,782.8 1215,788.8 1221.7,794.8 1228.8,800.8 1236.1,806.8 1243.8,812.8 1251.8,818.8 1260.3,824.8 1269.3,830.9 1278.7,837.8 1288.7,844.8 1299.3,850.8 1310.4,856.8 1322.2,862.8 1334.7,868.8 1348,873.9 1358.8,877.6"/>
<polyline transform="translate(2.75 2.75)" stroke-width="4" points="264.5,289.1 270,290.8 276,292.7 282,294.5 288,296.3 294,298.1 300,299.8 306,301.4 312,303 318,304.6 324,306.1 330,307.6 336,309 342,310.4 348,311.8 354,313.1 360,314.4 366,315.6 372,316.8 378,318 384,319.1 390,320.2 396,321.2 402,322.3 408,323.2 414,324.2 420,325.1 426,325.9 432,326.7 438,327.5 444,328.2 450,328.8 456,329.4 462,330 468,330.5 474,331 480,331.4 486,331.8 492,332.1 498,332.4 504,332.6 510,332.8 516,332.9 522,332.9 528,332.9 534,332.7 540,332.4 546,332.1 552,331.6 558,331 564,330.2 570,329.4 576,328.4 582,327.2 588,325.9 594,324.5 600,322.9 606,321.1 612,319.2 618,317.1 624,314.8 630,312.4 636,309.9 642,307.3 648,304.6 654,301.9 660,299.1 666,296.2 672,293.3 678,290.4 684,287.5 690,284.6 696,281.8 702,279 708,276.2 714,273.5 720,270.9 726,268.4 732,265.9 738,263.5 744,261.1 750,258.8 756,256.5 762,254.4 768,252.3 774,250.2 780,248.2 786,246.3 792,244.5 798,242.7 804,241 810,239.3 816,237.7 822,236.1 828,234.5 834,232.9 840,231.3 846,229.8 852,228.5 858,227.5 864,226.8 864.3,226.8 866.1,230.8 868.6,236.8 871,242.8 873.3,248.8 875.6,254.8 877.8,260.8 880,266.8 882.2,272.8 884.4,278.8 886.6,284.8 888.7,290.8 891,296.8 893.2,302.8 895.5,308.8 897.8,314.8 900.2,320.8 902.6,326.8 905,332.8 907.5,338.8 910,344.8 912.5,350.8 915.1,356.8 917.8,362.8 920.4,368.8 923.1,374.8 925.9,380.8 928.7,386.8 931.5,392.8 934.3,398.8 937.2,404.8 940.2,410.8 943.1,416.8 946.1,422.8 949.2,428.8 952.2,434.8 955.3,440.8 958.5,446.8 961.7,452.8 964.9,458.8 968.2,464.8 971.5,470.8 974.8,476.8 978.2,482.8 981.6,488.8 985,494.8 988.5,500.8 992.1,506.8 995.6,512.8 999.2,518.8 1002.9,524.8 1006.6,530.8 1010.3,536.8 1014.1,542.8 1017.9,548.8 1021.7,554.8 1025.6,560.8 1029.6,566.8 1033.5,572.8 1037.5,578.8 1041.6,584.8 1045.7,590.8 1049.8,596.8 1054,602.8 1058.3,608.8 1062.6,614.8 1066.9,620.8 1071.3,626.8 1075.8,632.8 1080.3,638.8 1084.8,644.8 1089.4,650.8 1094.1,656.8 1098.9,662.8 1103.7,668.8 1108.5,674.8 1113.4,680.8 1118.4,686.8 1123.5,692.8 1128.6,698.8 1133.8,704.8 1139.1,710.8 1144.4,716.8 1149.8,722.8 1155.3,728.8 1160.9,734.8 1166.5,740.8 1172.2,746.8 1178,752.8 1183.9,758.8 1189.9,764.8 1195.9,770.8 1202.1,776.8 1208.4,782.8 1215,788.8 1221.7,794.8 1228.8,800.8 1236.1,806.8 1243.8,812.8 1251.8,818.8 1260.3,824.8 1269.3,830.9 1278.7,837.8 1288.7,844.8 1299.3,850.8 1310.4,856.8 1322.2,862.8 1334.7,868.8 1348,873.9 1358.8,877.6"/>
</g>
</g>
<g shape-rendering="crispEdges">
<rect x="259" y="63" width="1249" height="5" fill="#000"/>
<rect x="259" y="910" width="1249" height="6" fill="#000"/>
<rect x="259" y="63" width="5" height="853" fill="#000"/>
<rect x="1502" y="63" width="6" height="853" fill="#000"/>
<rect x="507" y="68" width="6" height="18" fill="#000"/>
<rect x="507" y="893" width="6" height="17" fill="#000"/>
<rect x="757" y="68" width="5" height="18" fill="#000"/>
<rect x="757" y="893" width="5" height="17" fill="#000"/>
<rect x="1004" y="68" width="6" height="18" fill="#000"/>
<rect x="1004" y="893" width="6" height="17" fill="#000"/>
<rect x="1255" y="68" width="5" height="18" fill="#000"/>
<rect x="1255" y="893" width="5" height="17" fill="#000"/>
<rect x="264" y="233" width="18" height="5" fill="#000"/>
<rect x="1485" y="233" width="17" height="5" fill="#000"/>
<rect x="264" y="402" width="18" height="5" fill="#000"/>
<rect x="1485" y="402" width="17" height="5" fill="#000"/>
<rect x="264" y="571" width="18" height="6" fill="#000"/>
<rect x="1485" y="571" width="17" height="6" fill="#000"/>
<rect x="264" y="741" width="18" height="5" fill="#000"/>
<rect x="1485" y="741" width="17" height="5" fill="#000"/>
<rect x="1496" y="148" width="6" height="5" fill="#000"/>
<rect x="1496" y="317" width="6" height="6" fill="#000"/>
<rect x="1496" y="486" width="6" height="6" fill="#000"/>
<rect x="1496" y="655" width="6" height="5" fill="#000"/>
<rect x="1496" y="824" width="6" height="6" fill="#000"/>
<rect x="937" y="80" width="545" height="176" fill="#ffffff"/>
</g>
<rect x="944" y="121" width="153" height="10" rx="2.6" ry="2.6" fill="#ff0000" shape-rendering="crispEdges"/>
<rect x="944" y="200" width="153" height="10" rx="2.6" ry="2.6" fill="#000000" shape-rendering="crispEdges"/>
<text class="lg" x="1107.2" y="148">FSMA-DRNN</text>
<text class="lg" x="1107.2 1142.9 1165" y="226.8">PID</text>
<text class="t" transform="translate(242.7 94.2) scale(1 1.016)" text-anchor="end">420</text>
<text class="t" transform="translate(242.7 263.7) scale(1 1.016)" text-anchor="end">360</text>
<text class="t" transform="translate(242.7 433.2) scale(1 1.016)" text-anchor="end">300</text>
<text class="t" transform="translate(242.7 602.7) scale(1 1.016)" text-anchor="end">240</text>
<text class="t" transform="translate(242.7 772.2) scale(1 1.016)" text-anchor="end">180</text>
<text class="t" transform="translate(242.7 941.7) scale(1 1.016)" text-anchor="end">120</text>
<text class="t" transform="translate(262.7 1002.2) scale(1 1.016)" text-anchor="middle">50</text>
<text class="t" transform="translate(511.2 1002.2) scale(1 1.016)" text-anchor="middle">136</text>
<text class="t" transform="translate(760.2 1002.2) scale(1 1.016)" text-anchor="middle">222</text>
<text class="t" transform="translate(1008.2 1002.2) scale(1 1.016)" text-anchor="middle">308</text>
<text class="t" transform="translate(1256.4 1002.2) scale(1 1.016)" text-anchor="middle">394</text>
<text class="t" transform="translate(1506.2 1002.2) scale(1 1.016)" text-anchor="middle">480</text>
<text class="t" x="533 598.2 640.3 663.7 706.6 749.6 771.8 801.3 843.2 862.6 894.6 939 1011.8 1038 1085.9" y="1078">Velocity (km/h)</text>
<text class="t" style="font-size:91.7px" transform="translate(86 487.3) rotate(-90)" text-anchor="middle">Tranction (kN)</text>
</svg>
</body>
</html>
